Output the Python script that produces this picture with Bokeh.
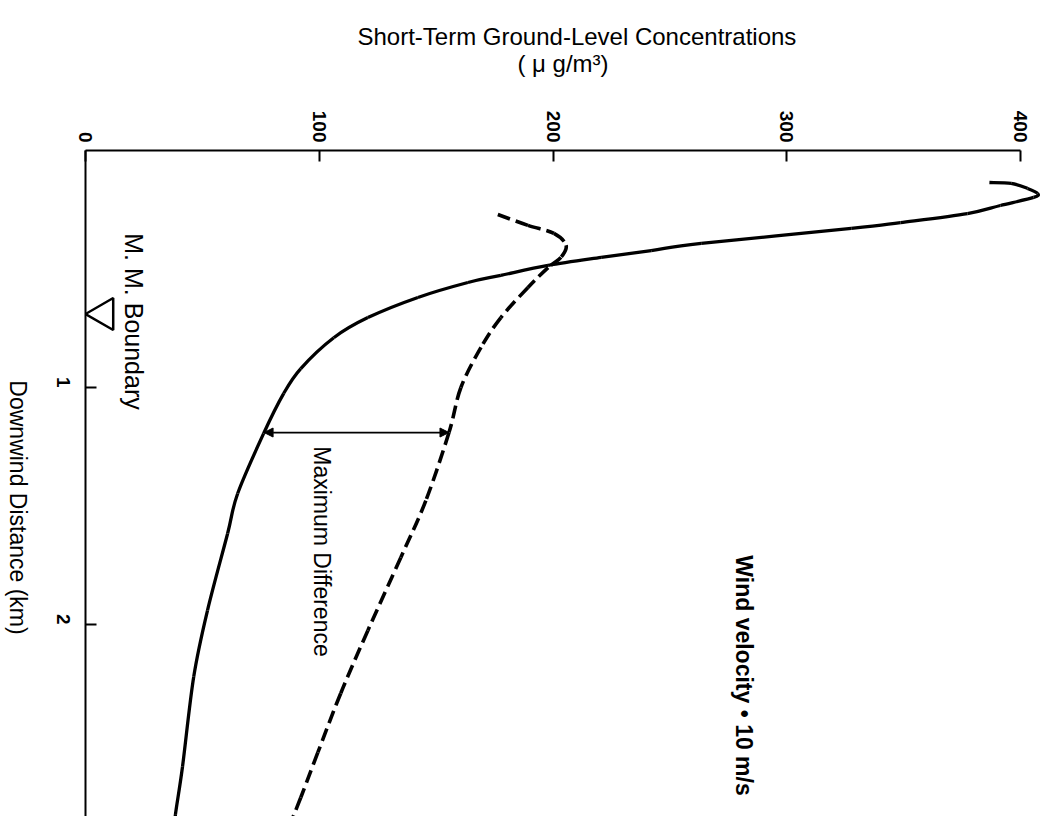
import math

import numpy as np
from bokeh.embed import file_html
from bokeh.models import Arrow, FixedTicker, Label, NormalHead, Range1d, Title
from bokeh.plotting import figure
from bokeh.resources import INLINE

# Short-term ground-level concentration (ug/m3) against downwind distance (km)
conc_ticks = [0, 100, 200, 300, 400]
dist_ticks = [1, 2]

# solid curve
solid_conc = [386.7, 396.0, 403.0, 407.3, 405.6, 391.4, 377.3, 348.7, 327.6, 263.4,
              242.0, 220.6, 197.9, 177.7, 163.6, 142.2, 120.8, 106.2, 92.1, 84.8,
              76.2, 65.1, 60.8, 52.2, 46.3, 41.5, 38.5, 38.0]
solid_dist = [0.135, 0.139, 0.160, 0.181, 0.198, 0.232, 0.266, 0.304, 0.329, 0.392,
              0.422, 0.451, 0.485, 0.527, 0.557, 0.620, 0.705, 0.790, 0.920, 1.025,
              1.194, 1.447, 1.616, 1.940, 2.220, 2.600, 2.800, 2.870]

# dashed curve
dashed_conc = [176.4, 189.3, 200.4, 205.6, 203.4, 197.9, 189.3, 177.7, 169.2, 160.6,
               155.5, 145.6, 134.9, 120.8, 109.2, 99.4, 92.1, 86.4]
dashed_dist = [0.270, 0.316, 0.350, 0.400, 0.451, 0.494, 0.578, 0.705, 0.831, 1.000,
               1.190, 1.477, 1.717, 2.025, 2.290, 2.540, 2.730, 2.870]

boundary_km = 0.69      # M. M. boundary
max_diff_km = 1.19      # distance of the maximum difference

# page geometry (pixels)
W, H = 1040, 816
LEFT, TOP = 85, 150
PX_PER_UG = 2.3375
PX_PER_KM = 237.0
X_MAX = (W - LEFT) / PX_PER_UG
Y_MAX = (H - TOP) / PX_PER_KM


def cx(px):
    return (px - LEFT) / PX_PER_UG


def dy(py):
    return (py - TOP) / PX_PER_KM


def smooth_segments(xs, ys):
    """Cubic Bezier pieces through the given points (Catmull-Rom tangents,
    worked out in pixel space so both axes weigh the same)."""
    px = np.asarray(xs, float) * PX_PER_UG
    py = np.asarray(ys, float) * PX_PER_KM
    n = len(px)
    segs = {k: [] for k in ("x0", "y0", "x1", "y1", "cx0", "cy0", "cx1", "cy1")}
    for i in range(n - 1):
        a = max(i - 1, 0)
        b = min(i + 2, n - 1)
        segs["x0"].append(px[i] / PX_PER_UG)
        segs["y0"].append(py[i] / PX_PER_KM)
        segs["x1"].append(px[i + 1] / PX_PER_UG)
        segs["y1"].append(py[i + 1] / PX_PER_KM)
        segs["cx0"].append((px[i] + (px[i + 1] - px[a]) / 6.0) / PX_PER_UG)
        segs["cy0"].append((py[i] + (py[i + 1] - py[a]) / 6.0) / PX_PER_KM)
        segs["cx1"].append((px[i + 1] - (px[b] - px[i]) / 6.0) / PX_PER_UG)
        segs["cy1"].append((py[i + 1] - (py[b] - py[i]) / 6.0) / PX_PER_KM)
    return segs


FONT = "Liberation Sans"
DOWN = -math.pi / 2   # text reading top to bottom

p = figure(
    width=W, height=H, title=None,
    x_range=Range1d(0, X_MAX),
    y_range=Range1d(Y_MAX, 0),
    x_axis_location="above", y_axis_location="left",
    output_backend="svg", toolbar_location=None,
    min_border_left=LEFT, min_border_top=TOP,
    min_border_right=0, min_border_bottom=0,
)
p.outline_line_color = None
p.grid.visible = False
p.background_fill_color = "white"
p.border_fill_color = "white"

for ax, ticks in ((p.xaxis[0], conc_ticks), (p.yaxis[0], dist_ticks)):
    ax.ticker = FixedTicker(ticks=ticks)
    ax.axis_line_width = 2
    ax.axis_line_color = "black"
    ax.major_tick_line_width = 2
    ax.major_tick_in = 11
    ax.major_tick_out = 0
    ax.minor_tick_line_color = None
    ax.major_label_orientation = -math.pi / 2
    ax.major_label_text_font = FONT
    ax.major_label_text_font_size = "19px"
    ax.major_label_text_font_style = "bold"
    ax.major_label_text_color = "black"

# concentration axis (top) with the unit line as its label
xax = p.xaxis[0]
xax.bounds = (0, 400)
xax.major_label_standoff = 8
xax.axis_label = "( \u03bc g/m\u00b3)"
xax.axis_label_text_font = FONT
xax.axis_label_text_font_size = "24px"
xax.axis_label_text_font_style = "normal"
xax.axis_label_text_color = "black"
xax.axis_label_standoff = 31

p.yaxis[0].major_label_standoff = 22

p.add_layout(Title(text="Short-Term Ground-Level Concentrations", align="left",
                   offset=357 - LEFT, standoff=-6, text_font=FONT, text_font_size="24px",
                   text_font_style="normal", text_color="black"), "above")

# distance axis title, in the left margin
p.add_layout(Label(
    x=cx(17), y=dy(507), text="Downwind Distance (km)", angle=DOWN,
    text_font=FONT, text_font_size="23px", text_font_style="normal",
    text_color="black", text_align="center", text_baseline="middle",
), "left")

# concentration curves
s = smooth_segments(solid_conc, solid_dist)
p.bezier(x0=s["x0"], y0=s["y0"], x1=s["x1"], y1=s["y1"],
         cx0=s["cx0"], cy0=s["cy0"], cx1=s["cx1"], cy1=s["cy1"],
         line_color="black", line_width=3.3)
d = smooth_segments(dashed_conc, dashed_dist)
p.bezier(x0=d["x0"], y0=d["y0"], x1=d["x1"], y1=d["y1"],
         cx0=d["cx0"], cy0=d["cy0"], cx1=d["cx1"], cy1=d["cy1"],
         line_color="black", line_width=3.6, line_dash="13 6")

# boundary marker: open triangle pointing at the distance axis
tri_size = 32
tri_c = (2.0 / 3.0) * (tri_size * math.sqrt(3) / 2) / PX_PER_UG
p.scatter([tri_c], [boundary_km], marker="triangle", size=tri_size, angle=math.pi / 2,
          fill_color=None, line_color="black", line_width=2.5)

# double-headed arrow spanning the two curves at the maximum difference
order_s = np.argsort(solid_dist)
order_d = np.argsort(dashed_dist)
c_left = float(np.interp(max_diff_km, np.array(solid_dist)[order_s], np.array(solid_conc)[order_s]))
c_right = float(np.interp(max_diff_km, np.array(dashed_dist)[order_d], np.array(dashed_conc)[order_d]))
p.add_layout(Arrow(
    x_start=c_left, y_start=max_diff_km, x_end=c_right, y_end=max_diff_km,
    line_width=1.8, line_color="black",
    start=NormalHead(size=9, fill_color="black", line_color="black"),
    end=NormalHead(size=9, fill_color="black", line_color="black"),
))


def add_text(text, px, py, size, angle=0.0, style="normal"):
    p.add_layout(Label(
        x=cx(px), y=dy(py), text=text, angle=angle,
        text_font=FONT, text_font_size=size, text_font_style=style,
        text_color="black", text_align="center", text_baseline="middle",
    ))


add_text("M. M. Boundary", 133, 321, "25px", DOWN)
add_text("Maximum Difference", 321, 551, "23px", DOWN)
add_text("Wind velocity \u2022 10 m/s", 743, 675, "23px", DOWN, "bold")

open("out.html", "w").write(file_html(p, INLINE))
